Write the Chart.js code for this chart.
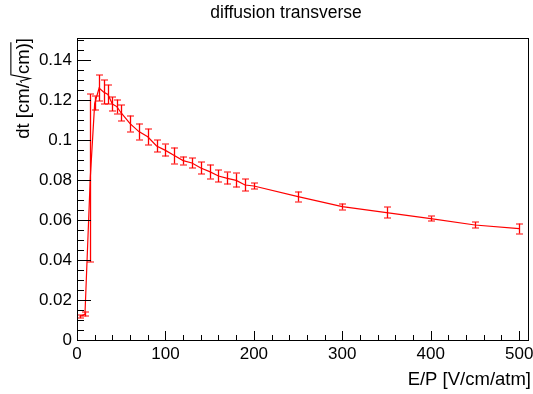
<!DOCTYPE html>
<html>
<head>
<meta charset="utf-8">
<script src="https://cdn.jsdelivr.net/npm/chart.js@4/dist/chart.umd.min.js"></script>
<style>
  html, body { margin: 0; padding: 0; background: #fff; }
  canvas { display: block; }
</style>
</head>
<body>
<canvas id="c" width="533" height="394"></canvas>
<script>
// ---- data ----
const epValues = [3, 9, 15, 20, 25, 30, 35, 40, 45, 50, 60, 70, 80, 90, 100, 110, 120, 130, 140, 150, 160, 170, 180, 190, 200, 250, 300, 350, 400, 450, 500];
const dtValues = [0.0117, 0.0128, 0.081, 0.1183, 0.126, 0.124, 0.1228, 0.118, 0.1167, 0.1135, 0.1082, 0.1042, 0.1016, 0.097, 0.0948, 0.0922, 0.0897, 0.0885, 0.086, 0.0842, 0.082, 0.0808, 0.0798, 0.0775, 0.077, 0.0717, 0.0667, 0.0637, 0.0607, 0.0575, 0.0557];
const dtErrors = [0.0008, 0.001, 0.042, 0.0035, 0.0065, 0.006, 0.0048, 0.0035, 0.0035, 0.004, 0.004, 0.004, 0.004, 0.003, 0.003, 0.004, 0.002, 0.0025, 0.003, 0.0035, 0.003, 0.003, 0.0035, 0.003, 0.0015, 0.0025, 0.0015, 0.0027, 0.0012, 0.0015, 0.0025];
const xTickValues = [0, 100, 200, 300, 400, 500];
const xTickLabels = ['0', '100', '200', '300', '400', '500'];
const yTickValues = [0, 0.02, 0.04, 0.06, 0.08, 0.1, 0.12, 0.14];
const yTickLabels = ['0', '0.02', '0.04', '0.06', '0.08', '0.1', '0.12', '0.14'];
const chartTitle = 'diffusion transverse';
const xTitle = 'E/P [V/cm/atm]';
const yTitleParts = ['dt [cm/', 'cm)', ']'];

const FONT = '"Liberation Sans", Arial, Helvetica, sans-serif';

const decorPlugin = {
  id: 'decor',
  afterDatasetsDraw(chart) {
    const ctx = chart.ctx;
    const xs = chart.scales.x, ys = chart.scales.y;
    const a = chart.chartArea;
    // error bars
    ctx.save();
    ctx.strokeStyle = '#ff0000';
    for (let i = 0; i < epValues.length; i++) {
      const px = Math.round(xs.getPixelForValue(epValues[i])) + 0.5;
      const yLo = ys.getPixelForValue(dtValues[i] - dtErrors[i]);
      const yHi = ys.getPixelForValue(dtValues[i] + dtErrors[i]);
      ctx.lineWidth = 1.3;
      ctx.beginPath();
      ctx.moveTo(px, yHi); ctx.lineTo(px, yLo);
      ctx.stroke();
      ctx.lineWidth = 1;
      ctx.beginPath();
      ctx.moveTo(px - 3.5, Math.round(yHi)); ctx.lineTo(px + 3.5, Math.round(yHi));
      ctx.moveTo(px - 3.5, Math.round(yLo)); ctx.lineTo(px + 3.5, Math.round(yLo));
      ctx.stroke();
    }
    ctx.restore();

    // frame and inner ticks
    ctx.save();
    ctx.fillStyle = '#000';
    const L = Math.round(a.left), R = Math.round(a.right);
    const T = Math.round(a.top), B = Math.round(a.bottom);
    ctx.fillRect(L, T, R - L + 1, 1);
    ctx.fillRect(L, B, R - L + 1, 1);
    ctx.fillRect(L, T, 1, B - T + 1);
    ctx.fillRect(R, T, 1, B - T + 1);
    for (let k = 0; k * 0.005 <= ys.max + 1e-9; k++) {
      const major = k % 4 === 0;
      const py = Math.round(ys.getPixelForValue(k * 0.005));
      ctx.fillRect(L, py, major ? 14 : 7, 1);
    }
    for (let k = 0; k * 20 <= xs.max + 1e-9; k++) {
      const major = k % 5 === 0;
      const px = Math.round(xs.getPixelForValue(k * 20));
      const h = major ? 9 : 5;
      ctx.fillRect(px, B - h, 1, h);
    }
    ctx.restore();

    // texts
    ctx.save();
    ctx.fillStyle = '#000';
    ctx.font = '17.5px ' + FONT;
    ctx.textAlign = 'center';
    ctx.textBaseline = 'middle';
    ctx.fillText(chartTitle, 286, 13);

    ctx.font = '18.5px ' + FONT;
    ctx.textAlign = 'right';
    ctx.fillText(xTitle, 531, 380);

    // y title rotated, aligned to top of axis
    const f = 18.5;
    ctx.translate(29, a.top);
    ctx.rotate(-Math.PI / 2);
    ctx.textAlign = 'left';
    ctx.textBaseline = 'alphabetic';
    const w0 = ctx.measureText(yTitleParts[0]).width;
    const wr = 0.5 * f;
    const w1 = ctx.measureText(yTitleParts[1]).width;
    const w2 = ctx.measureText(yTitleParts[2]).width;
    let x = -(w0 + wr + w1 + w2);
    ctx.fillText(yTitleParts[0], x, 0);
    x += w0;
    ctx.strokeStyle = '#000';
    ctx.lineWidth = 1.1;
    ctx.beginPath();
    ctx.moveTo(x + 0.02 * f, -0.4 * f);
    ctx.lineTo(x + 0.12 * f, -0.46 * f);
    ctx.lineTo(x + 0.25 * f, 0.05 * f);
    ctx.lineTo(x + 0.45 * f, -0.98 * f);
    ctx.lineTo(x + wr + w1 + 1, -0.98 * f);
    ctx.stroke();
    x += wr;
    ctx.fillText(yTitleParts[1], x, 0);
    x += w1;
    ctx.fillText(yTitleParts[2], x, 0);
    ctx.restore();
  }
};

new Chart(document.getElementById('c'), {
  type: 'line',
  data: {
    datasets: [{
      data: epValues.map((v, i) => ({ x: v, y: dtValues[i] })),
      borderColor: '#ff0000',
      borderWidth: 1.2,
      pointRadius: 0,
      tension: 0,
      fill: false
    }]
  },
  options: {
    responsive: false,
    animation: false,
    devicePixelRatio: 1,
    layout: { padding: { top: 38, right: 5, left: 0, bottom: 0 } },
    plugins: { legend: { display: false }, tooltip: { enabled: false }, title: { display: false } },
    scales: {
      x: {
        type: 'linear', min: 0, max: 510,
        grid: { display: false, drawTicks: false },
        border: { display: false },
        ticks: {
          font: { size: 17, family: FONT }, color: '#000', padding: 4,
          maxRotation: 0, autoSkip: false,
          callback: (v, i) => xTickLabels[i]
        },
        afterBuildTicks: s => { s.ticks = xTickValues.map(v => ({ value: v })); },
        afterFit: s => { s.height = 54; s.paddingLeft = 0; s.paddingRight = 0; }
      },
      y: {
        type: 'linear', min: 0, max: 0.151,
        grid: { display: false, drawTicks: false },
        border: { display: false },
        ticks: {
          font: { size: 17, family: FONT }, color: '#000', padding: 5,
          autoSkip: false,
          callback: (v, i) => yTickLabels[i]
        },
        afterBuildTicks: s => { s.ticks = yTickValues.map(v => ({ value: v })); },
        afterFit: s => { s.width = 77; s.paddingTop = 0; s.paddingBottom = 0; }
      }
    }
  },
  plugins: [decorPlugin]
});
</script>
</body>
</html>
